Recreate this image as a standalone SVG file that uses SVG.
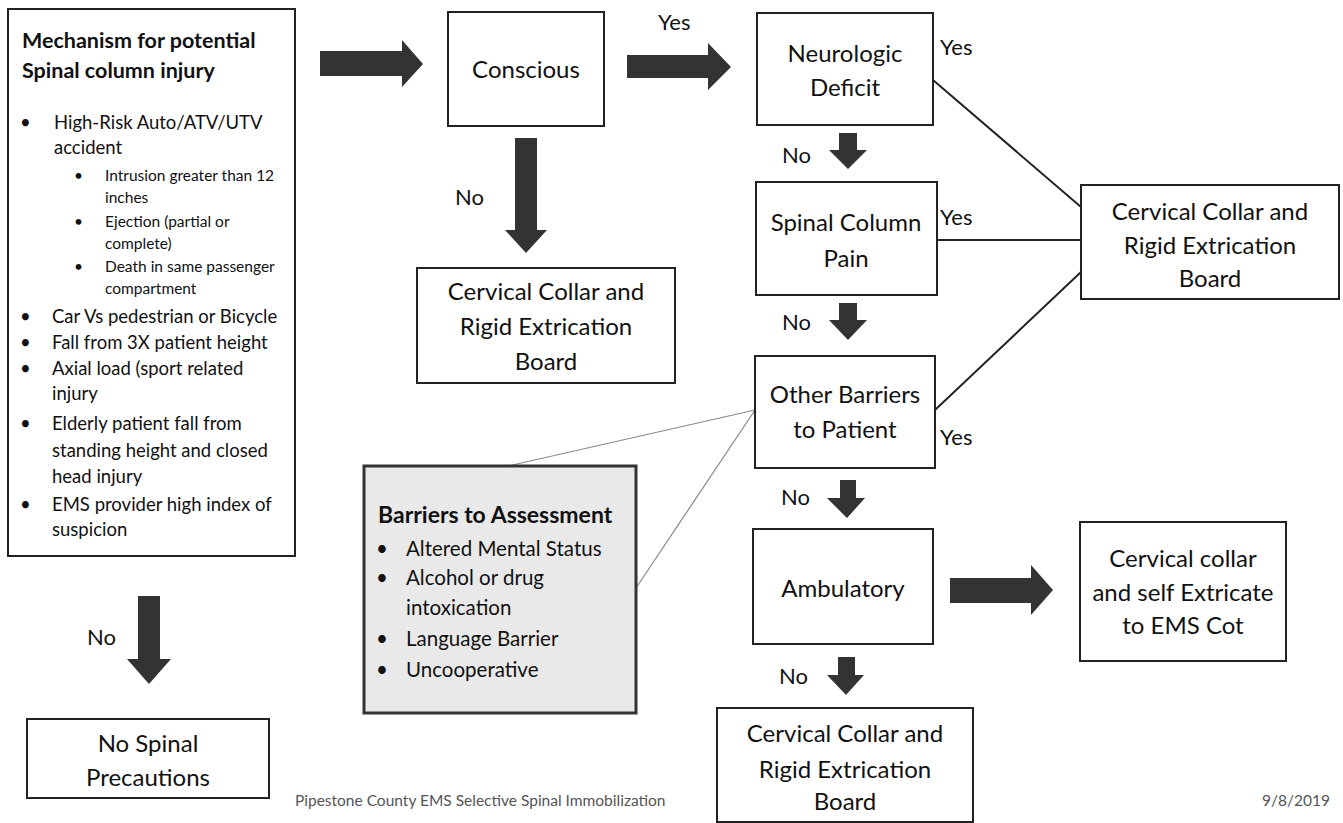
<svg xmlns="http://www.w3.org/2000/svg" width="1343" height="823" viewBox="0 0 1343 823">
<defs>
<style>
.box{fill:#fff;stroke:#222;stroke-width:2}
.gbox{fill:#e9e9e9;stroke:#333;stroke-width:3}
.t{font-family:Lato,"Open Sans","Liberation Sans",sans-serif;fill:#111}
.n{font-size:24px;text-anchor:middle}
.l{font-size:18.5px}
.s{font-size:15.5px}
.b{font-weight:bold;font-size:21.5px}
.b2{font-weight:bold;font-size:23px}
.bl{font-size:20.5px}
.lab{font-family:Lato,"Liberation Sans",sans-serif;font-size:22px;fill:#111}
.arr{fill:#333}
.ln{stroke:#222;stroke-width:2;fill:none}
.gl{stroke:#888;stroke-width:1.2;fill:none}
.ft{font-family:Lato,"Liberation Sans",sans-serif;font-size:15.5px;fill:#555}
</style>
</defs>
<rect width="1343" height="823" fill="#fff"/>

<g id="connectors">
<polygon class="arr" points="320,51 402,51 402,40 423,64 402,87 402,76 320,76"/>
<polygon class="arr" points="627,55 708,55 708,43 731,67 708,90 708,78 627,78"/>
<polygon class="arr" points="515,138 537,138 537,230 547,230 526,253 505,230 515,230"/>
<polygon class="arr" points="839,133 857,133 857,150 867,150 848,169 829,150 839,150"/>
<polygon class="arr" points="839,303 857,303 857,320 867,320 848,340 829,320 839,320"/>
<polygon class="arr" points="840,480 856,480 856,498 865,498 847,518 827,498 840,498"/>
<polygon class="arr" points="838,657 855,657 855,675 864,675 846,695 827,675 838,675"/>
<polygon class="arr" points="950,578 1031,578 1031,565 1053,590 1031,615 1031,603 950,603"/>
<polygon class="arr" points="138,596 160,596 160,659 171,659 149,684 127,659 138,659"/>
<line class="ln" x1="933" y1="80" x2="1081" y2="207"/>
<line class="ln" x1="937" y1="240" x2="1081" y2="240"/>
<line class="ln" x1="935" y1="410" x2="1081" y2="272"/>
<line class="gl" x1="508" y1="466" x2="755" y2="410"/>
<line class="gl" x1="636" y1="588" x2="755" y2="410"/>
<text class="lab" x="658" y="30">Yes</text>
<text class="lab" x="455" y="205">No</text>
<text class="lab" x="940" y="55">Yes</text>
<text class="lab" x="782" y="163">No</text>
<text class="lab" x="940" y="225">Yes</text>
<text class="lab" x="782" y="330">No</text>
<text class="lab" x="940" y="445">Yes</text>
<text class="lab" x="781" y="505">No</text>
<text class="lab" x="779" y="684">No</text>
<text class="lab" x="87" y="645">No</text>
</g>

<g id="mechanism">
<rect class="box" x="8" y="9" width="287" height="547"/>
<text class="t b" x="22" y="48">Mechanism for potential</text>
<text class="t b" x="22" y="78">Spinal column injury</text>
<g class="t l">
<text x="20" y="129">•</text><text x="54" y="129">High-Risk Auto/ATV/UTV</text>
<text x="54" y="154">accident</text>
<text x="20" y="323">•</text><text x="52" y="323">Car Vs pedestrian or Bicycle</text>
<text x="20" y="349">•</text><text x="52" y="349">Fall from 3X patient height</text>
<text x="20" y="375">•</text><text x="52" y="375">Axial load (sport related</text>
<text x="52" y="400">injury</text>
<text x="20" y="430">•</text><text x="52" y="430">Elderly patient fall from</text>
<text x="52" y="457">standing height and closed</text>
<text x="52" y="483">head injury</text>
<text x="20" y="511">•</text><text x="52" y="511">EMS provider high index of</text>
<text x="52" y="536">suspicion</text>
</g>
<g class="t s">
<text x="74" y="181">•</text><text x="105" y="181">Intrusion greater than 12</text>
<text x="105" y="203">inches</text>
<text x="74" y="227">•</text><text x="105" y="227">Ejection (partial or</text>
<text x="105" y="249">complete)</text>
<text x="74" y="272">•</text><text x="105" y="272">Death in same passenger</text>
<text x="105" y="294">compartment</text>
</g>
</g>

<g id="conscious">
<rect class="box" x="448" y="12" width="156" height="114"/>
<text class="t n" x="526" y="78">Conscious</text>
</g>

<g id="collar-mid">
<rect class="box" x="417" y="268" width="258" height="115"/>
<text class="t n" x="546" y="300">Cervical Collar and</text>
<text class="t n" x="546" y="335">Rigid Extrication</text>
<text class="t n" x="546" y="370">Board</text>
</g>

<g id="neurologic">
<rect class="box" x="757" y="13" width="176" height="112"/>
<text class="t n" x="845" y="62">Neurologic</text>
<text class="t n" x="845" y="96">Deficit</text>
</g>

<g id="spinal-pain">
<rect class="box" x="756" y="182" width="181" height="113"/>
<text class="t n" x="846" y="231">Spinal Column</text>
<text class="t n" x="846" y="267">Pain</text>
</g>

<g id="other-barriers">
<rect class="box" x="755" y="356" width="180" height="112"/>
<text class="t n" x="845" y="403">Other Barriers</text>
<text class="t n" x="845" y="438">to Patient</text>
</g>

<g id="collar-right">
<rect class="box" x="1081" y="185" width="258" height="114"/>
<text class="t n" x="1210" y="220">Cervical Collar and</text>
<text class="t n" x="1210" y="254">Rigid Extrication</text>
<text class="t n" x="1210" y="287">Board</text>
</g>

<g id="barriers">
<rect class="gbox" x="364" y="466" width="272" height="247"/>
<text class="t b2" x="378" y="523">Barriers to Assessment</text>
<g class="t bl">
<text x="376" y="556">•</text><text x="406" y="556">Altered Mental Status</text>
<text x="376" y="585">•</text><text x="406" y="585">Alcohol or drug</text>
<text x="406" y="615">intoxication</text>
<text x="376" y="646">•</text><text x="406" y="646">Language Barrier</text>
<text x="376" y="677">•</text><text x="406" y="677">Uncooperative</text>
</g>
</g>

<g id="ambulatory">
<rect class="box" x="753" y="529" width="180" height="115"/>
<text class="t n" x="843" y="597">Ambulatory</text>
</g>

<g id="self-extricate">
<rect class="box" x="1080" y="522" width="206" height="139"/>
<text class="t n" x="1183" y="567">Cervical collar</text>
<text class="t n" x="1183" y="601">and self Extricate</text>
<text class="t n" x="1183" y="634">to EMS Cot</text>
</g>

<g id="collar-bottom">
<rect class="box" x="717" y="708" width="256" height="114"/>
<text class="t n" x="845" y="742">Cervical Collar and</text>
<text class="t n" x="845" y="778">Rigid Extrication</text>
<text class="t n" x="845" y="810">Board</text>
</g>

<g id="no-precautions">
<rect class="box" x="27" y="719" width="242" height="79"/>
<text class="t n" x="148" y="752">No Spinal</text>
<text class="t n" x="148" y="786">Precautions</text>
</g>

<text class="ft" x="295" y="806">Pipestone County EMS Selective Spinal Immobilization</text>
<text class="ft" x="1262" y="806">9/8/2019</text>
</svg>
